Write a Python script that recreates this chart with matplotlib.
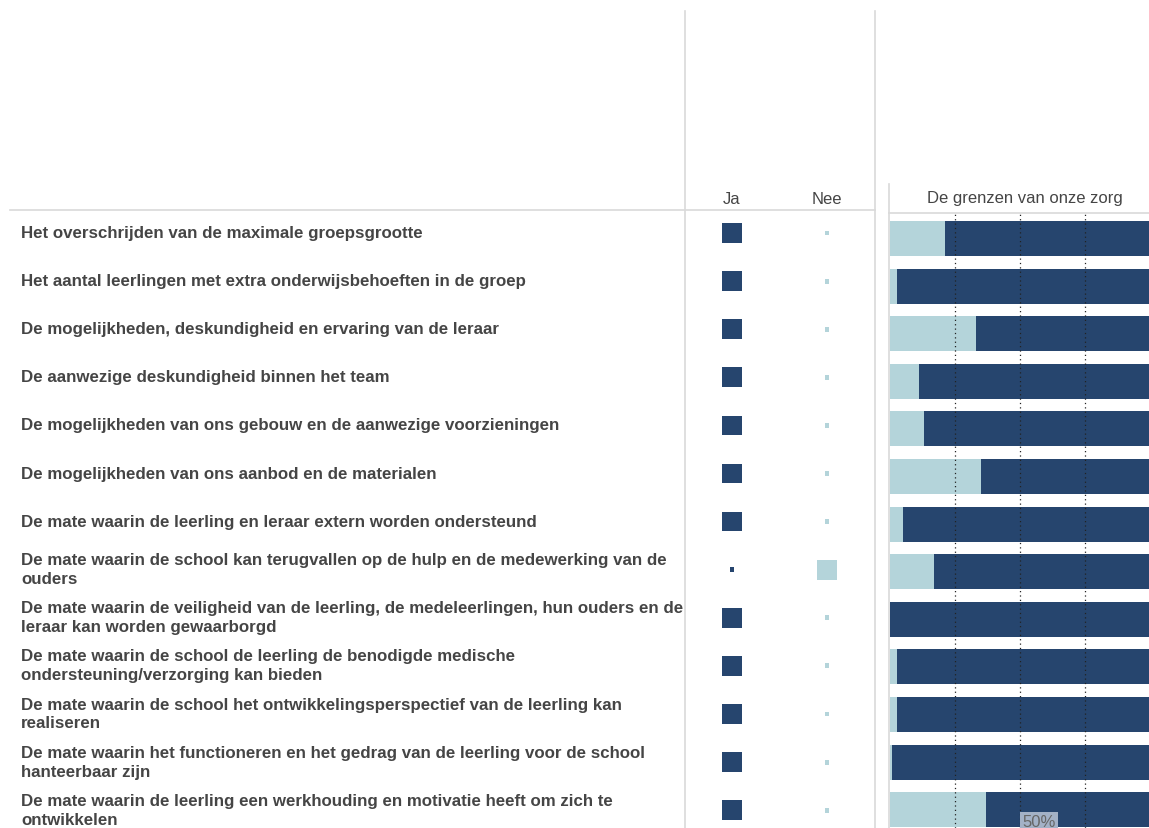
import numpy as np
import matplotlib.pyplot as plt
from matplotlib.lines import Line2D

# ---- data ----
labels = [
    "Het overschrijden van de maximale groepsgrootte",
    "Het aantal leerlingen met extra onderwijsbehoeften in de groep",
    "De mogelijkheden, deskundigheid en ervaring van de leraar",
    "De aanwezige deskundigheid binnen het team",
    "De mogelijkheden van ons gebouw en de aanwezige voorzieningen",
    "De mogelijkheden van ons aanbod en de materialen",
    "De mate waarin de leerling en leraar extern worden ondersteund",
    "De mate waarin de school kan terugvallen op de hulp en de medewerking van de\nouders",
    "De mate waarin de veiligheid van de leerling, de medeleerlingen, hun ouders en de\nleraar kan worden gewaarborgd",
    "De mate waarin de school de leerling de benodigde medische\nondersteuning/verzorging kan bieden",
    "De mate waarin de school het ontwikkelingsperspectief van de leerling kan\nrealiseren",
    "De mate waarin het functioneren en het gedrag van de leerling voor de school\nhanteerbaar zijn",
    "De mate waarin de leerling een werkhouding en motivatie heeft om zich te\nontwikkelen",
]
# share answering "Nee" (light part of the bar), rest is "Ja"
nee_share = [0.21, 0.025, 0.33, 0.11, 0.13, 0.35, 0.05, 0.17, 0.0, 0.025, 0.025, 0.006, 0.37]
# this school's answer: 1 = Ja, 0 = Nee
answer_ja = [1, 1, 1, 1, 1, 1, 1, 0, 1, 1, 1, 1, 1]

dark = "#26456e"
light = "#b4d4da"
grid_c = "#d9d9d9"
txt_c = "#454545"

W, H = 1149, 829
fig = plt.figure(figsize=(W / 100, H / 100), dpi=100)
plt.rcParams['font.family'] = ['Liberation Sans', 'DejaVu Sans']

n = len(labels)
y = np.arange(n)


def px_axes(x0, x1, y0, y1):
    # pixel box (top-left origin) -> figure axes
    return fig.add_axes([x0 / W, 1 - y1 / H, (x1 - x0) / W, (y1 - y0) / H])


# table rows: top at 213, row pitch 48.1, first row centre at 234
top_px, row_px, first_c = 213, 48.1, 234
ytop = -(first_c - top_px) / row_px
ybot = ytop + (H - top_px) / row_px

# labels
ax_l = px_axes(0, 685, top_px, H)
ax_l.set_xlim(0, 685)
ax_l.set_ylim(ybot, ytop)
ax_l.axis('off')
for i, lab in enumerate(labels):
    ax_l.text(21, y[i] - 0.01, lab, ha='left', va='center', fontsize=12.15,
              fontweight='bold', color=txt_c, linespacing=1.32)

# Ja / Nee squares
ax_s = px_axes(685, 875, top_px, H)
ax_s.set_xlim(685, 875)
ax_s.set_ylim(ybot, ytop)
ax_s.axis('off')
ja = np.array(answer_ja)
big, small = 200, 12
ax_s.scatter(np.full(n, 732), y, s=np.where(ja == 1, big, small), marker='s',
             color=dark, linewidths=0)
ax_s.scatter(np.full(n, 827), y, s=np.where(ja == 0, big, small), marker='s',
             color=light, linewidths=0)

# stacked bars: pane top at 214, pitch 47.6, first bar centre at 239.5
b_top, b_row, b_first = 214, 47.6, 239.5
bt = -(b_first - b_top) / b_row
bb = bt + (H - b_top) / b_row
ax_b = px_axes(890, 1150, b_top, H)
ax_b.set_ylim(bb, bt)
ax_b.set_xlim(0, 1)
nee = np.array(nee_share)
ax_b.barh(y, nee, height=35 / b_row, color=light, zorder=1)
ax_b.barh(y, 1 - nee, left=nee, height=35 / b_row, color=dark, zorder=1)
for g in [0.25, 0.5, 0.75]:
    ax_b.axvline(g, color='#222222', lw=0.9, ls=(0, (1, 2.5)), zorder=2)
ax_b.set_xticks([])
ax_b.set_yticks([])
for s in ax_b.spines.values():
    s.set_visible(False)
ax_b.text(0.51, bt + (815 - b_top) / b_row, "50%", ha='left', va='top', fontsize=12,
          color='#666666', zorder=3,
          bbox=dict(boxstyle='square,pad=0.15', fc='#a3b1c6', ec='none'))

# headers
fig.text(732 / W, 1 - 199 / H, "Ja", ha='center', va='center', fontsize=12, color=txt_c)
fig.text(827 / W, 1 - 199 / H, "Nee", ha='center', va='center', fontsize=12, color=txt_c)
fig.text(1025 / W, 1 - 199 / H, "De grenzen van onze zorg", ha='center', va='center',
         fontsize=12, color=txt_c)

# table rules
def pline(xs, ys):
    fig.add_artist(Line2D([x / W for x in xs], [1 - v / H for v in ys],
                          color=grid_c, lw=1.2))

pline([10, 875], [211, 211])
pline([889, W], [214, 214])
pline([685, 685], [12, H])
pline([875, 875], [12, H])
pline([889, 889], [185, H])

fig.savefig("out.png", dpi=100)
